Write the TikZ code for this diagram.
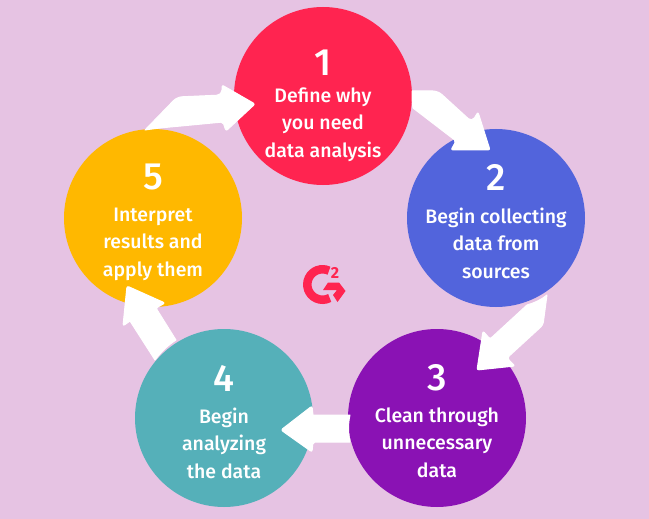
\documentclass[tikz,border=0pt]{standalone}
\usepackage{fontspec}
\setmainfont{Fira Sans}
\newfontfamily\labelfont{Fira Sans Medium}
\newfontfamily\numfont{Fira Sans Medium}
\newfontfamily\logofont{Fira Sans Bold}
\definecolor{bgc}{HTML}{E6C3E3}
\definecolor{cA}{HTML}{FF2450}
\definecolor{cB}{HTML}{5264DC}
\definecolor{cC}{HTML}{8A12B4}
\definecolor{cD}{HTML}{55B0B9}
\definecolor{cE}{HTML}{FFB800}
\tikzset{
  x=1pt,y=-1pt,
  disc/.style={circle,minimum size=178pt,inner sep=0pt,fill=#1},
  steptext/.style={text=white,font=\labelfont\fontsize{19.5}{27.5}\selectfont,align=center,anchor=north},
  stepnum/.style={text=white,font=\numfont\fontsize{38}{38}\selectfont,anchor=center},
  flow/.style={fill=white,draw=white,line width=1pt,line join=round},
}
\begin{document}
\begin{tikzpicture}
\useasboundingbox (0,0) rectangle (649,519);
\fill[bgc] (0,0) rectangle (649,519);
\node[disc=cA] (c1) at (323,96) {};
\node[disc=cB] (c2) at (496,218) {};
\node[disc=cC] (c3) at (437,418) {};
\node[disc=cD] (c4) at (224,418) {};
\node[disc=cE] (c5) at (153,218) {};
% arrows
\path[flow] (145,130) [rounded corners=5pt] -- (177,97) -- (222,95) [rounded corners=2pt] -- (222,85) -- (255,104) -- (226,131) -- (223,122) [sharp corners] -- (181,126) .. controls (170,127) and (158,128) .. (145,130) -- cycle;
\path[flow] (412,91) [rounded corners=5pt] -- (438,91) -- (472,122) [rounded corners=2pt] -- (478,112) -- (490,150) -- (451,150) -- (456,141) [sharp corners] -- (413,108) .. controls (412,103) and (412,97) .. (412,91) -- cycle;
\path[flow] (547,295) [rounded corners=3pt] -- (543,325) -- (507,358) [rounded corners=2pt] -- (515,366) -- (477,370) -- (483,331) -- (490,339) [sharp corners] -- (527,305) .. controls (534,303) and (541,300) .. (547,295) -- cycle;
\path[flow] (350,415) -- (313,415) [rounded corners=2pt] -- (312,406) -- (281,430) -- (312,452) -- (313,442) [sharp corners] -- (350,442) .. controls (348,433) and (348,424) .. (350,415) -- cycle;
\path[flow] (155,360) -- (130,321) [rounded corners=2pt] -- (123,326) -- (127,286) -- (165,303) -- (156,308) [sharp corners] -- (176,340) .. controls (168,345) and (161,352) .. (155,360) -- cycle;
% labels
\node[stepnum] (n1) at (323.5,63) {1};
\node[stepnum] (n2) at (496.5,177) {2};
\node[stepnum] (n3) at (437,378) {3};
\node[stepnum] (n4) at (224,378) {4};
\node[stepnum] (n5) at (153,177) {5};
\node[steptext] (t1) at (323,84) {Define why\\you need\\data analysis};
\node[steptext] (t2) at (496,204) {Begin collecting\\data from\\sources};
\node[steptext] (t3) at (437,404) {Clean through\\unnecessary\\data};
\node[steptext] (t4) at (224,404) {Begin\\analyzing\\the data};
\node[steptext] (t5) at (153,204) {Interpret\\results and\\apply them};
% logo
\draw[cA,line width=8.5pt] (329,270.7) arc[start angle=-65,end angle=-298,radius=15.25];
\fill[cA] (323,290) -- (328,282.5) -- (339,282.5) -- (345.5,291) -- (337.5,302) -- (333,295) -- (337,290) -- cycle;
\node[text=cA,font=\logofont\fontsize{16}{16}\selectfont] (g2) at (335,273) {2};
\end{tikzpicture}
\end{document}
